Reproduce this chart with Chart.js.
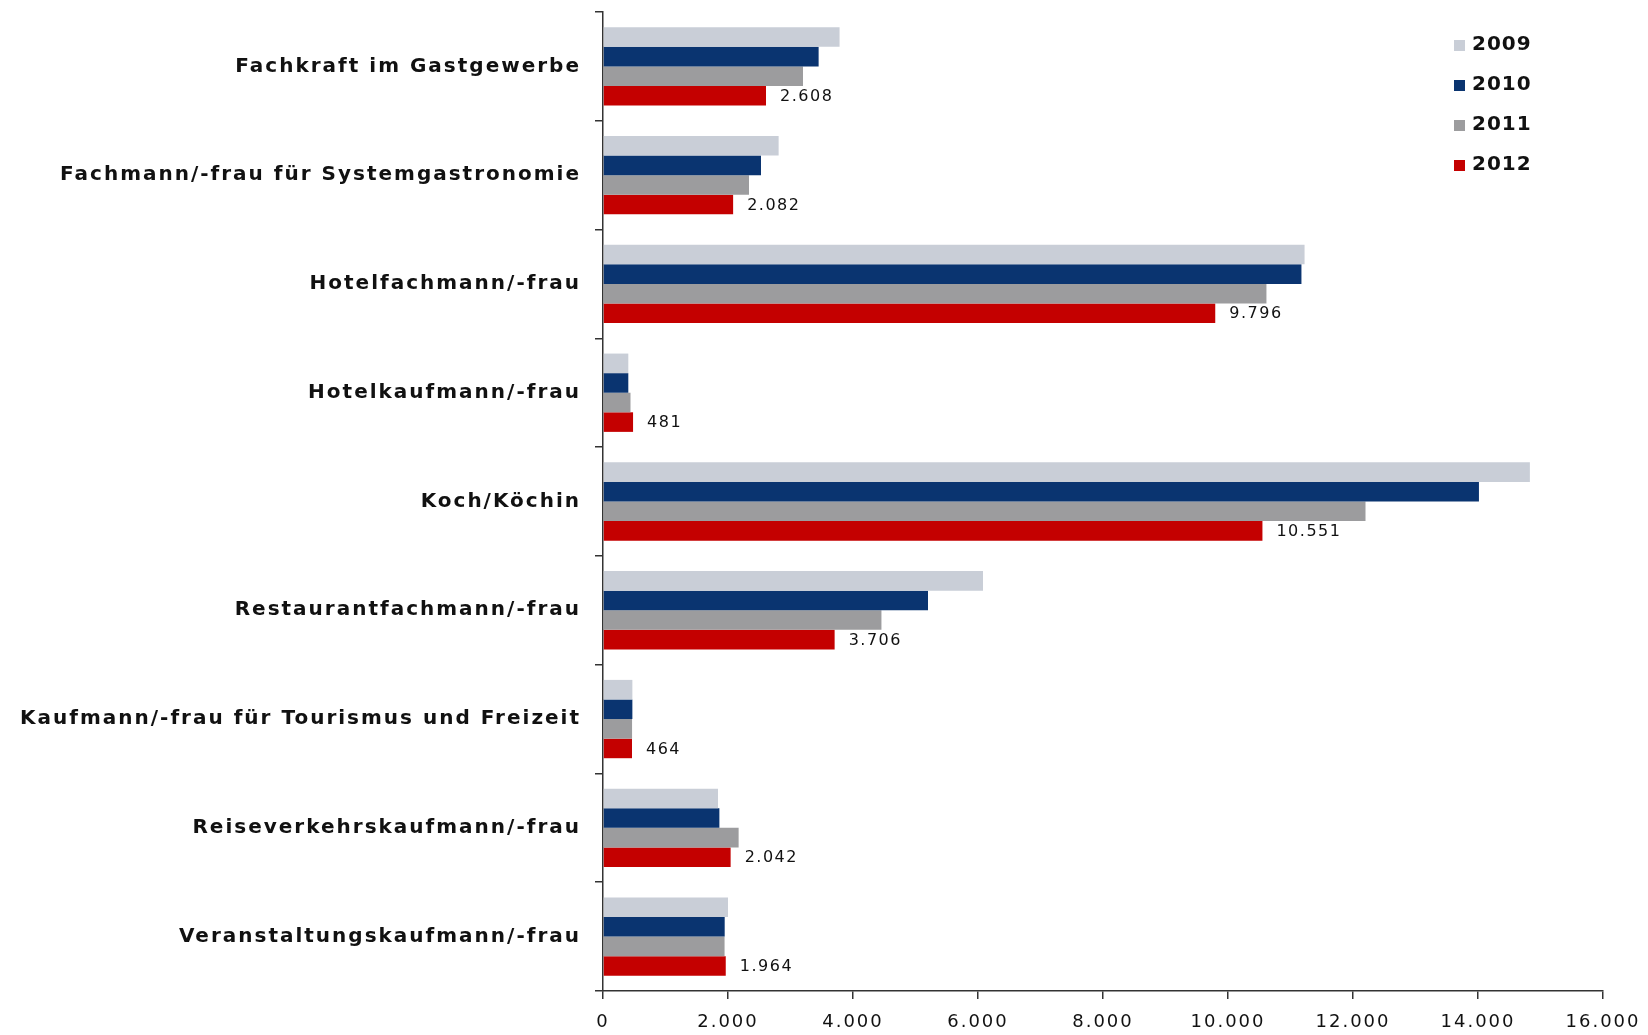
<!DOCTYPE html>
<html>
<head>
<meta charset="utf-8">
<script src="https://cdn.jsdelivr.net/npm/chart.js@4"></script>
<style>
html,body{margin:0;padding:0;background:#fff;}
#wrap{width:1648px;height:1035px;}
</style>
</head>
<body>
<div id="wrap"><canvas id="c" width="1648" height="1035"></canvas></div>
<script>
const categories = [
  "Fachkraft im Gastgewerbe",
  "Fachmann/-frau für Systemgastronomie",
  "Hotelfachmann/-frau",
  "Hotelkaufmann/-frau",
  "Koch/Köchin",
  "Restaurantfachmann/-frau",
  "Kaufmann/-frau für Tourismus und Freizeit",
  "Reiseverkehrskaufmann/-frau",
  "Veranstaltungskaufmann/-frau"
];
const years = ["2009", "2010", "2011", "2012"];
const values2009 = [3785, 2810, 11225, 405, 14830, 6080, 470, 1840, 2000];
const values2010 = [3450, 2528, 11175, 405, 14015, 5200, 470, 1862, 1947];
const values2011 = [3200, 2336, 10615, 440, 12200, 4455, 465, 2170, 1945];
const values2012 = [2608, 2082, 9796, 481, 10551, 3706, 464, 2042, 1964];
const xTicks = [0, 2000, 4000, 6000, 8000, 10000, 12000, 14000, 16000];
const colors = ["#C9CED7", "#0A3470", "#9C9C9E", "#C40000"];

function fmt(v){ return v.toString().replace(/\B(?=(\d{3})+(?!\d))/g, "."); }

const spacing = {
  id: "spacing",
  beforeLayout(chart){ chart.ctx.letterSpacing = "2px"; },
  beforeDraw(chart){ chart.ctx.letterSpacing = "2px"; }
};

const valueLabels = {
  id: "valueLabels",
  afterDatasetsDraw(chart){
    const ctx = chart.ctx;
    const idx = 3;
    const meta = chart.getDatasetMeta(idx);
    ctx.save();
    ctx.letterSpacing = "1.5px";
    ctx.font = "16px 'DejaVu Sans'";
    ctx.fillStyle = "#111";
    ctx.textBaseline = "middle";
    ctx.textAlign = "left";
    meta.data.forEach((bar, i) => {
      ctx.fillText(fmt(chart.data.datasets[idx].data[i]), bar.x + 14, bar.y + 1);
    });
    ctx.restore();
  }
};

const sideLegend = {
  id: "sideLegend",
  afterDraw(chart){
    const ctx = chart.ctx;
    ctx.save();
    ctx.letterSpacing = "1px";
    ctx.font = "bold 20px 'DejaVu Sans'";
    ctx.textBaseline = "middle";
    ctx.textAlign = "left";
    chart.data.datasets.forEach((ds, i) => {
      const y = 45 + i * 40;
      ctx.fillStyle = ds.backgroundColor;
      ctx.fillRect(1454, y - 5, 11, 11);
      ctx.fillStyle = "#111";
      ctx.fillText(ds.label, 1472, y);
    });
    ctx.restore();
  }
};

const datasets = [values2009, values2010, values2011, values2012].map((d, i) => ({
  label: years[i],
  data: d,
  backgroundColor: colors[i],
  borderWidth: 0,
  categoryPercentage: 0.72,
  barPercentage: 1.0
}));

new Chart(document.getElementById("c"), {
  type: "bar",
  data: { labels: categories, datasets: datasets },
  plugins: [spacing, valueLabels, sideLegend],
  options: {
    indexAxis: "y",
    responsive: false,
    animation: false,
    devicePixelRatio: 1,
    layout: { padding: { left: 0, right: 45, top: 12, bottom: 0 } },
    plugins: { legend: { display: false }, tooltip: { enabled: false } },
    scales: {
      x: {
        min: 0, max: 16000,
        afterBuildTicks(scale){ scale.ticks = xTicks.map(v => ({ value: v })); },
        afterFit(scale){ scale.height = 44; scale.paddingLeft = 0; scale.paddingRight = 0; },
        border: { color: "#333", width: 1.5 },
        grid: { drawOnChartArea: false, drawTicks: true, tickLength: 8, color: "#333", lineWidth: 1.5 },
        ticks: {
          font: { family: "'DejaVu Sans'", size: 18 },
          color: "#111",
          padding: 13,
          callback: (v) => fmt(v)
        }
      },
      y: {
        afterFit(scale){ scale.width = 603; scale.paddingTop = 0; scale.paddingBottom = 0; },
        border: { color: "#333", width: 1.5 },
        grid: { drawOnChartArea: false, drawTicks: true, tickLength: 8, color: "#333", lineWidth: 1.5, offset: true },
        ticks: {
          font: { family: "'DejaVu Sans'", size: 20, weight: "bold" },
          color: "#111",
          padding: 14
        }
      }
    }
  }
});
</script>
</body>
</html>
